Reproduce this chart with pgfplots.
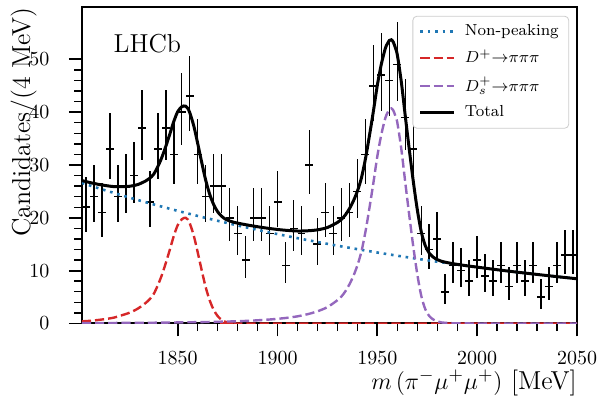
\documentclass[border=0pt]{standalone}
\usepackage{pgfplots}
\usepackage{pgfplotstable}
\pgfplotsset{compat=1.18}

\definecolor{tabblue}{RGB}{31,119,180}
\definecolor{tabred}{RGB}{214,39,40}
\definecolor{tabpurple}{RGB}{148,103,189}

% legend texts kept robust
\protected\def\dplusleg{$D^{+}{\to}\pi\pi\pi$}
\protected\def\dsleg{$D_s^{+}{\to}\pi\pi\pi$}

% binned candidates, with asymmetric Poisson errors
\pgfplotstableread{
x    y   ep    em
1804 22  5.77  4.66
1808 24  5.98  4.87
1812 21  5.66  4.56
1816 33  6.81  5.72
1820 24  5.98  4.87
1824 26  6.17  5.07
1828 28  6.36  5.27
1832 37  7.14  6.06
1836 23  5.87  4.77
1840 33  6.81  5.72
1844 37  7.14  6.06
1848 32  6.72  5.64
1852 40  7.38  6.31
1856 43  7.61  6.54
1860 32  6.72  5.64
1864 24  5.98  4.87
1868 26  6.17  5.07
1872 26  6.17  5.07
1876 20  5.56  4.44
1880 17  5.21  4.09
1884 12  4.57  3.43
1888 20  5.56  4.44
1892 20  5.56  4.44
1896 17  5.21  4.09
1900 23  5.87  4.77
1904 11  4.43  3.28
1908 18  5.33  4.21
1912 17  5.21  4.09
1916 30  6.55  5.45
1920 15  4.97  3.84
1924 21  5.66  4.56
1928 17  5.21  4.09
1932 20  5.56  4.44
1936 21  5.66  4.56
1940 25  6.07  4.98
1944 32  6.72  5.64
1948 45  7.76  6.69
1952 47  7.91  6.84
1956 46  7.84  6.76
1960 49  8.05  6.98
1964 39  7.31  6.23
1968 33  6.81  5.72
1972 17  5.21  4.09
1976 14  4.84  3.71
1980 16  5.09  3.97
1984  6  3.40  2.40
1988 11  4.43  3.28
1992 10  4.28  3.12
1996  8  3.96  2.78
2000 12  4.57  3.43
2004  9  4.12  2.96
2008  8  3.96  2.78
2012 11  4.43  3.28
2016  7  3.78  2.60
2020 11  4.43  3.28
2024  8  3.96  2.78
2028 11  4.43  3.28
2032  5  3.40  2.18
2036  7  3.78  2.60
2040 11  4.43  3.28
2044 13  4.71  3.57
2048 13  4.71  3.57
}\datatab

\pgfplotstableread{
x    y
1802 26.60
1810 25.63
1820 24.48
1830 23.37
1840 22.32
1850 21.31
1860 20.35
1870 19.43
1880 18.55
1890 17.71
1900 16.91
1910 16.15
1920 15.42
1930 14.72
1940 14.06
1950 13.43
1960 12.82
1970 12.24
1980 11.69
1990 11.16
2000 10.66
2010 10.17
2020  9.71
2030  9.28
2040  8.86
2050  8.46
}\bkgtab

\pgfplotstableread{
x    y
1802 0.40
1806 0.50
1810 0.65
1814 0.85
1818 1.10
1822 1.55
1826 2.05
1830 2.80
1834 3.90
1836 4.60
1838 5.60
1840 7.20
1842 9.10
1844 11.40
1846 13.90
1848 16.50
1850 18.60
1852 19.70
1853 19.95
1854 20.00
1855 19.70
1856 19.00
1858 16.70
1860 13.50
1862 10.10
1864 6.90
1866 4.40
1868 2.60
1870 1.40
1872 0.70
1874 0.30
1876 0.13
1878 0.05
1882 0.00
2050 0.00
}\dptab

\pgfplotstableread{
x    y
1802 0.05
1820 0.10
1840 0.15
1860 0.25
1870 0.32
1880 0.42
1885 0.50
1890 0.60
1895 0.72
1900 0.88
1905 1.08
1910 1.35
1915 1.75
1920 2.30
1925 3.10
1930 4.40
1932 5.10
1934 6.10
1936 7.40
1938 9.00
1940 11.00
1942 13.60
1944 17.30
1946 21.80
1948 26.60
1950 31.70
1952 35.80
1954 38.90
1955 39.80
1956 40.50
1957 40.70
1958 40.30
1959 39.30
1960 38.00
1962 33.00
1964 26.60
1966 20.40
1968 14.50
1970 9.30
1972 5.20
1974 2.70
1976 1.40
1978 0.75
1980 0.40
1982 0.20
1986 0.07
1990 0.03
2000 0.00
2050 0.00
}\dstab

\pgfplotstableread{
x    y
1802 27.05
1806 26.68
1810 26.35
1814 26.10
1818 25.90
1822 25.91
1826 25.97
1830 26.29
1834 26.98
1836 27.48
1838 28.27
1840 29.67
1842 31.38
1844 33.48
1846 35.78
1848 38.18
1850 40.09
1852 41.01
1853 41.17
1854 41.12
1855 40.73
1856 39.94
1858 37.47
1860 34.10
1862 30.53
1864 27.15
1866 24.49
1868 22.51
1870 21.15
1872 20.29
1874 19.73
1876 19.40
1878 19.16
1880 18.99
1885 18.63
1890 18.31
1895 18.03
1900 17.79
1905 17.61
1910 17.50
1915 17.54
1920 17.72
1925 18.17
1930 19.12
1932 19.69
1934 20.56
1936 21.72
1938 23.19
1940 25.06
1942 27.53
1944 31.11
1946 35.48
1948 40.16
1950 45.13
1952 49.11
1954 52.09
1955 52.93
1956 53.56
1957 53.70
1958 53.24
1959 52.18
1960 50.82
1962 45.70
1964 39.19
1966 32.87
1968 26.86
1970 21.54
1972 17.33
1974 14.72
1976 13.31
1978 12.55
1980 12.09
1982 11.78
1986 11.44
1990 11.19
1995 10.91
2000 10.66
2010 10.17
2020  9.71
2030  9.28
2040  8.86
2050  8.46
}\totaltab

\begin{document}
\begin{tikzpicture}
\begin{axis}[
    name=ax,
    scale only axis,
    width=248pt, height=158.5pt,
    xmin=1802, xmax=2050, ymin=0, ymax=59.9,
    xtick={1850,1900,...,2050},
    ytick={0,10,...,50},
    minor x tick num=4, minor y tick num=4,
    tick pos=left, tick align=outside,
    major tick length=6.5pt, minor tick length=3.8pt,
    every major tick/.style={line width=0.9pt, black},
    every minor tick/.style={line width=0.7pt, black},
    axis line style={line width=1pt},
    tick label style={font=\fontsize{9.7}{11}\selectfont},
    xticklabel style={/pgf/number format/set thousands separator={},
        yshift=-6.3pt, inner xsep=0.5pt, inner ysep=1pt},
    yticklabel style={xshift=-6.3pt},
    label style={font=\fontsize{13}{15}\selectfont, inner sep=0pt},
    xlabel={$m\,(\pi^{-}\mu^{+}\mu^{+})$ [MeV]},
    ylabel={Candidates/(4 MeV)},
    xlabel style={at={(axis description cs:1,-0.146)}, anchor=north east},
    ylabel style={at={(axis description cs:-0.0907,1)}, anchor=south east},
    legend cell align=left,
    legend style={
        at={(0.984,0.972)}, anchor=north east,
        draw=black!20, rounded corners=2pt, fill=white,
        font=\fontsize{8}{9}\selectfont,
        row sep=1.5pt, inner xsep=3pt, inner ysep=2.2pt,
        /tikz/every odd column/.append style={column sep=2.5pt},
    },
]
% data points
\addplot[black, only marks, mark=*, mark size=0pt,
    mark options={draw=none, fill=none}, forget plot,
    error bars/.cd, x dir=both, x fixed=2, y dir=both, y explicit,
    error mark=none, error bar style={black, solid, line width=0.8pt}]
    table[x=x, y=y, y error plus=ep, y error minus=em]{\datatab};

\addplot[tabblue, line width=1.3pt, line cap=butt, dash pattern=on 1.3pt off 2.4pt]
    table[x=x, y=y]{\bkgtab};
\addlegendentry{Non-peaking}
\addplot[tabred, line width=1.2pt, smooth, dash pattern=on 4.6pt off 2pt]
    table[x=x, y=y]{\dptab};
\addlegendentry{\dplusleg}
\addplot[tabpurple, line width=1.2pt, smooth, dash pattern=on 4.6pt off 2pt]
    table[x=x, y=y]{\dstab};
\addlegendentry{\dsleg}
\addplot[black, line width=1.5pt, smooth]
    table[x=x, y=y]{\totaltab};
\addlegendentry{Total}

\node[anchor=west, font=\fontsize{13}{15}\selectfont] at (rel axis cs:0.05,0.883) {LHCb};
\end{axis}
\path (ax.north west) ++(-41pt,3.5pt);
\path (ax.south east) ++(10pt,-36pt);
\end{tikzpicture}
\end{document}
